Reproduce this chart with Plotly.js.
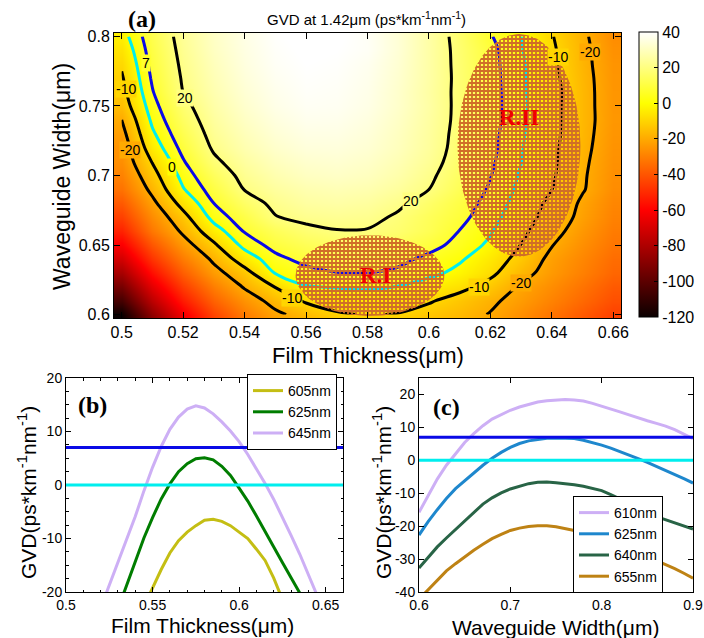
<!DOCTYPE html>
<html><head><meta charset="utf-8">
<script src="https://cdn.plot.ly/plotly-3.0.1.min.js"></script>
<style>html,body{margin:0;padding:0;background:#fff}#chart{width:704px;height:638px}</style>
</head><body><div id="chart"></div>
<script>
// ---------- panel (a): GVD map ----------
const thickness = [0.50,0.51,0.52,0.53,0.54,0.55,0.56,0.57,0.58,0.59,0.60,0.61,0.62,0.63,0.64,0.65,0.66];
const guideWidth = [0.60,0.61,0.62,0.63,0.64,0.65,0.66,0.67,0.68,0.69,0.70,0.71,0.72,0.73,0.74,0.75,0.76,0.77,0.78,0.79,0.80];
const gvdMap = [
 [-120,-88,-63,-44,-31,-22,-16.3,-11.2,-9.3,-10.5,-13.7,-16.5,-20.5,-26.5,-32.7,-39,-45],
 [-106,-77,-54,-37,-25.5,-16.5,-8.7,-5.5,-4.5,-5.8,-9,-13.5,-18.2,-23.5,-29.5,-35.5,-41.5],
 [-94,-67,-46,-30.5,-19,-9.6,-0.4,0.6,1.3,-0.2,-3.8,-7.3,-13,-21.2,-27,-33,-39],
 [-82,-57,-38,-23.5,-13.4,0.5,4.5,6.8,7.0,5.5,2.2,-2.2,-7.9,-16.7,-24,-30,-36],
 [-71,-48,-31,-18,-4.9,4.9,9.5,11.3,11.2,9.1,5.2,1.1,-5.2,-13,-22.5,-28.5,-34.5],
 [-61,-40,-24.3,-11.5,2.6,9.7,13.4,15.3,15.3,13.5,9.6,4.6,-1.6,-10.2,-19.6,-26.5,-32.5],
 [-52,-32,-18.2,-4,7.6,13.7,17.7,19.6,19.5,17.3,13.1,6.8,0.7,-7.7,-16.7,-24.5,-31],
 [-45,-27.2,-13.2,2.9,11.4,19.6,22.2,23,22.3,18.8,14,9.1,2.9,-5.3,-14.3,-22.5,-29.5],
 [-39,-22.4,-6.6,7,15.9,22,25.2,26,24.8,21.6,16.3,10.7,4.5,-3.4,-12.6,-21.5,-28.5],
 [-33,-17.5,-0.6,10.7,20.3,24.8,27.6,28.5,27.5,24.6,20,13.2,6,-1.9,-9.9,-19.3,-27],
 [-29.6,-13.5,2.8,14.2,22.7,27.3,30.2,31,29.8,26.7,21.7,14.8,7.3,-0.9,-8.7,-18.9,-26.5],
 [-26.5,-9.5,6.3,18.2,25.1,29.6,32.2,32.8,31.4,28.2,23.3,16.2,8.3,0.2,-8.2,-18.3,-26],
 [-25.5,-4.8,9.5,21.3,27.6,31.8,34.3,34.5,33,29.6,24.4,17,9,0.6,-7.7,-17.6,-25.5],
 [-23,-1.3,12.4,23.2,29.2,33.4,35.8,35.8,34,30.2,24.8,17.4,9.5,1,-7.2,-17.1,-25],
 [-20,1.7,15.1,24.8,30.8,34.8,37.2,37,35,31,25.3,17.8,10,1.4,-7.1,-16.9,-24.5],
 [-15.5,4.2,17.5,26.3,32.2,36.2,38.3,38,36,31.8,25.8,17.8,10.1,1.8,-7,-16.9,-24.7],
 [-13,6.5,20,27.6,33.3,37,39,38.5,36.5,32,25.6,17.8,10,1.5,-6.8,-16.9,-24.8],
 [-11,8.1,21,28.6,34.2,37.8,39.5,39,37,32.5,26,17.8,9.8,1.4,-7.5,-17.1,-25],
 [-9,9.5,21.9,29.5,35,38.5,40,39.5,37.5,33,26,17.6,9.6,1.2,-8,-17.6,-25.2],
 [-6.5,10.8,22.8,30.5,35.5,39,40.5,40,38.5,33.5,26,17.4,9.3,0.6,-8.6,-17.7,-26],
 [-3.5,12.2,23.6,31,36,39.5,41,40.5,38.5,33.5,26,16.8,7.6,0,-9.5,-18.3,-27]
];
const contourLevels = [20, -10, -20, 7, 0];
const contourColors = ['black', 'black', 'black', 'rgb(10,10,230)', 'rgb(0,238,238)'];
// contour label placements: [level, thickness, width]
const contourLabelSpots = [
  [20, 0.5205, 0.756], [20, 0.5940, 0.6815],
  [7, 0.5080, 0.781],
  [0, 0.5163, 0.706],
  [-10, 0.5013, 0.762], [-10, 0.5555, 0.6118], [-10, 0.6163, 0.620], [-10, 0.6420, 0.785],
  [-20, 0.5027, 0.718], [-20, 0.6300, 0.6224], [-20, 0.6523, 0.789]
];
const colorbarTicks = [-120,-100,-80,-60,-40,-20,0,20,40];
const regionLabels = ['R.I', 'R.II'];
const regionLabelPos = [[0.5825, 0.628], [0.6294, 0.742]];
const regionI = {cx: 0.5808, cy: 0.628, rx: 0.0242, ry: 0.029};
const regionII = {cx: 0.6293, cy: 0.7217, rx: 0.0200, ry: 0.080};

// ---------- panel (b): GVD vs film thickness ----------
const bLabels = ['605nm', '625nm', '645nm'];
const bThick605 = [0.545,0.550,0.555,0.560,0.565,0.570,0.575,0.580,0.585,0.590,0.595,0.600,0.605,0.610,0.615,0.620,0.625];
const bGvd605   = [-22.7,-19.2,-15.8,-12.7,-10.4,-8.8,-7.6,-6.6,-6.4,-6.8,-7.6,-8.8,-10.0,-12.0,-14.1,-17.4,-21.4];
const bThick625 = [0.530,0.535,0.540,0.545,0.550,0.555,0.560,0.565,0.570,0.575,0.580,0.585,0.590,0.595,0.600,0.605,0.610,0.615,0.620,0.625,0.630,0.635,0.640];
const bGvd625   = [-23.2,-18.7,-14.2,-9.9,-6.1,-2.6,0.2,2.5,4.0,4.9,5.1,4.7,3.5,1.8,-0.6,-3.0,-5.8,-8.6,-11.6,-14.5,-17.5,-20.3,-23];
const bThick645 = [0.520,0.525,0.530,0.535,0.540,0.545,0.550,0.555,0.560,0.565,0.570,0.575,0.580,0.585,0.590,0.595,0.600,0.605,0.610,0.615,0.620,0.625,0.630,0.635,0.640,0.645];
const bGvd645   = [-23,-18.7,-14.5,-10.4,-5.9,-1.1,3.3,7.2,10.4,12.7,14.2,14.8,14.4,13.3,11.8,10.1,8.1,5.7,3.1,0.3,-2.7,-5.9,-9.4,-12.9,-16.8,-20.6];
const bYTicks = [-20,-10,0,10,20];

// ---------- panel (c): GVD vs waveguide width ----------
const cLabels = ['610nm', '625nm', '640nm', '655nm'];
const cWidth = [0.60,0.61,0.62,0.63,0.64,0.65,0.66,0.67,0.68,0.69,0.70,0.71,0.72,0.73,0.74,0.75,0.76,0.77,0.78,0.79,0.80,0.81,0.82,0.83,0.84,0.85,0.86,0.87,0.88,0.89,0.90];
const cGvd610 = [-15.8,-10.6,-5.7,-1.5,2.1,5.4,8.1,10.5,12.5,13.9,15.2,16.2,17.0,17.7,18.1,18.4,18.5,18.3,18.0,17.3,16.5,15.6,14.7,13.8,12.8,12.0,11.2,10.4,9.3,7.9,6.6];
const cGvd625 = [-22.7,-18.6,-15.0,-11.6,-8.6,-6.2,-3.9,-1.5,0.6,2.4,3.9,5.1,5.9,6.4,6.7,6.8,6.8,6.6,6.1,5.4,4.6,3.7,2.7,1.6,0.5,-0.6,-1.8,-3.1,-4.4,-5.6,-6.9];
const cGvd640 = [-32.7,-29.4,-26.3,-23.6,-21.0,-18.5,-15.9,-13.3,-11.4,-9.9,-8.7,-7.8,-7.1,-6.7,-6.6,-6.8,-7.0,-7.4,-7.9,-8.5,-9.2,-10.4,-11.7,-13.1,-14.6,-16.0,-17.1,-18.1,-19.1,-20.0,-20.9];
const cGvd655 = [-42.2,-39.4,-36.5,-33.6,-31.4,-29.3,-27.3,-25.5,-23.8,-22.5,-21.3,-20.6,-20.1,-19.9,-19.9,-20.2,-20.7,-21.3,-22.0,-22.9,-23.7,-24.7,-25.8,-26.9,-28.1,-29.3,-30.5,-31.6,-32.9,-34.3,-35.8];
const cYTicks = [-40,-30,-20,-10,0,10,20];

const refLevels = [7, 0];
const refColors = ['rgb(10,10,230)', 'rgb(0,238,238)'];

// ---------- styling ----------
const FONT = 'Liberation Sans, Arial, sans-serif';
const SERIF = 'Liberation Serif, Times New Roman, serif';
const ZMIN = -120, ZMAX = 40;
const hot = [[0,'rgb(11,0,0)'],[0.375,'rgb(255,0,0)'],[0.75,'rgb(255,255,0)'],[1,'rgb(255,255,255)']];
function hotColor(v){
  const f = Math.max(0, Math.min(1, (v - ZMIN) / (ZMAX - ZMIN)));
  let r, g, b;
  if (f < 0.375) { r = 11 + 244 * f / 0.375; g = 0; b = 0; }
  else if (f < 0.75) { r = 255; g = 255 * (f - 0.375) / 0.375; b = 0; }
  else { r = 255; g = 255; b = 255 * (f - 0.75) / 0.25; }
  return 'rgb(' + Math.round(r) + ',' + Math.round(g) + ',' + Math.round(b) + ')';
}
const txt = v => String(v);

function ellipsePath(e){
  const xs = [], ys = [];
  for (let i = 0; i <= 160; i++) {
    const a = 2 * Math.PI * i / 160;
    xs.push(e.cx + e.rx * Math.cos(a));
    ys.push(e.cy + e.ry * Math.sin(a));
  }
  return {xs, ys};
}

const traces = [];
traces.push({
  type: 'heatmap', x: thickness, y: guideWidth, z: gvdMap,
  colorscale: hot, zmin: ZMIN, zmax: ZMAX, zsmooth: 'best', hoverinfo: 'skip',
  colorbar: {
    x: 639/704, xanchor: 'left', xref: 'paper', xpad: 0,
    y: 1-317/638, yanchor: 'bottom', yref: 'paper', ypad: 0,
    len: 285/638, lenmode: 'fraction', thickness: 19, thicknessmode: 'pixels',
    outlinecolor: 'black', outlinewidth: 1,
    tickmode: 'array', tickvals: colorbarTicks, ticktext: colorbarTicks.map(txt),
    ticks: 'inside', ticklen: 4, tickcolor: 'black',
    tickfont: {family: FONT, size: 16, color: 'black'}
  }
});
contourLevels.forEach((lv, i) => {
  traces.push({
    type: 'contour', x: thickness, y: guideWidth, z: gvdMap,
    autocontour: false, showscale: false, hoverinfo: 'skip',
    contours: {start: lv, end: lv + 0.5, size: 1, coloring: 'none', showlabels: false},
    line: {color: contourColors[i], width: 3, smoothing: 1}
  });
});
[regionI, regionII].forEach(e => {
  const p = ellipsePath(e);
  traces.push({
    type: 'scatter', mode: 'lines', x: p.xs, y: p.ys, fill: 'toself',
    line: {width: 0, color: 'rgba(0,0,0,0)'}, hoverinfo: 'skip', showlegend: false,
    fillcolor: 'rgba(0,0,0,0)',
    fillpattern: {shape: '+', fgcolor: 'rgb(208,110,40)', bgcolor: 'rgba(0,0,0,0)', size: 4, solidity: 0.7}
  });
});

const bSeries = [[bThick605, bGvd605, 'rgb(196,190,20)'], [bThick625, bGvd625, 'rgb(0,125,0)'], [bThick645, bGvd645, 'rgb(205,175,245)']];
bSeries.forEach((s, i) => {
  traces.push({type: 'scatter', mode: 'lines', x: s[0], y: s[1], name: bLabels[i],
    xaxis: 'x2', yaxis: 'y2', legend: 'legend', line: {color: s[2], width: 3}, hoverinfo: 'skip'});
});
const cSeries = [[cGvd610, 'rgb(205,175,245)'], [cGvd625, 'rgb(30,135,205)'], [cGvd640, 'rgb(40,100,70)'], [cGvd655, 'rgb(190,130,20)']];
cSeries.forEach((s, i) => {
  traces.push({type: 'scatter', mode: 'lines', x: cWidth, y: s[0], name: cLabels[i],
    xaxis: 'x3', yaxis: 'y3', legend: 'legend2', line: {color: s[1], width: 3}, hoverinfo: 'skip'});
});

const shapes = [];
['2', '3'].forEach(ax => {
  refLevels.forEach((lv, i) => {
    shapes.push({type: 'line', xref: 'x' + ax + ' domain', x0: 0, x1: 1, yref: 'y' + ax, y0: lv, y1: lv,
      line: {color: refColors[i], width: 3}, layer: 'above'});
  });
});

function axisBase(extra){
  return Object.assign({showline: true, linecolor: 'black', linewidth: 1, mirror: 'allticks',
    ticks: 'inside', ticklen: 5, tickcolor: 'black', showgrid: false, zeroline: false,
    tickfont: {family: FONT, size: 14, color: 'black'}}, extra);
}

const annotations = [
  {text: '<b>(a)</b>', x: 142/704, y: 1-19/638, font: {family: SERIF, size: 24, color: 'black'}},
  {text: 'GVD at 1.42\u03bcm (ps*km<sup>-1</sup>nm<sup>-1</sup>)', x: 366/704, y: 1-18/638, font: {family: FONT, size: 15, color: 'black'}},
  {text: 'Film Thickness(\u03bcm)', x: 368/704, y: 1-355/638, font: {family: FONT, size: 22, color: 'black'}},
  {text: 'Waveguide Width(\u03bcm)', x: 62/704, y: 1-177/638, textangle: -90, font: {family: FONT, size: 23, color: 'black'}},
  {text: '<b>(b)</b>', x: 92/704, y: 1-405/638, font: {family: SERIF, size: 24, color: 'black'}},
  {text: '<b>(c)</b>', x: 446/704, y: 1-407/638, font: {family: SERIF, size: 24, color: 'black'}},
  {text: 'Film Thickness(\u03bcm)', x: 202/704, y: 1-625/638, font: {family: FONT, size: 21, color: 'black'}},
  {text: 'Waveguide Width(\u03bcm)', x: 555/704, y: 1-627/638, font: {family: FONT, size: 21, color: 'black'}},
  {text: 'GVD(ps*km<sup>-1</sup>nm<sup>-1</sup>)', x: 27/704, y: 1-493/638, textangle: -90, font: {family: FONT, size: 21, color: 'black'}},
  {text: 'GVD(ps*km<sup>-1</sup>nm<sup>-1</sup>)', x: 382/704, y: 1-493/638, textangle: -90, font: {family: FONT, size: 21, color: 'black'}}
].map(a => Object.assign({xref: 'paper', yref: 'paper', showarrow: false, xanchor: 'center', yanchor: 'middle'}, a));
contourLabelSpots.forEach(s => {
  annotations.push({text: txt(s[0]), x: s[1], y: s[2], xref: 'x', yref: 'y', showarrow: false,
    bgcolor: hotColor(s[0]), borderpad: 0, font: {family: FONT, size: 14, color: 'black'}});
});
regionLabels.forEach((t, i) => {
  annotations.push({text: '<b>' + t + '</b>', x: regionLabelPos[i][0], y: regionLabelPos[i][1], xref: 'x', yref: 'y',
    showarrow: false, font: {family: SERIF, size: 23, color: 'rgb(240,0,0)'}});
});

const layout = {
  width: 704, height: 638, autosize: false,
  margin: {l: 0, r: 0, t: 0, b: 0},
  paper_bgcolor: 'white', plot_bgcolor: 'white',
  font: {family: FONT, color: 'black'},
  showlegend: true,
  xaxis: axisBase({domain: [114/704, 621/704], range: [0.4975, 0.6625], dtick: 0.02, tick0: 0.5, ticklen: 6,
    tickfont: {family: FONT, size: 16, color: 'black'}, anchor: 'y'}),
  yaxis: axisBase({domain: [1-318/638, 1-33/638], range: [0.5975, 0.8025], dtick: 0.05, tick0: 0.6, ticklen: 6,
    tickfont: {family: FONT, size: 16, color: 'black'}, anchor: 'x'}),
  xaxis2: axisBase({domain: [66/704, 343/704], range: [0.5, 0.66], dtick: 0.05, tick0: 0.5, anchor: 'y2',
    minor: {ticks: 'inside', ticklen: 2.5, dtick: 0.01, tickcolor: 'black'}}),
  yaxis2: axisBase({domain: [1-592/638, 1-378/638], range: [-20, 20], tickmode: 'array', tickvals: bYTicks, ticktext: bYTicks.map(txt), anchor: 'x2',
    minor: {ticks: 'inside', ticklen: 2.5, dtick: 2.5, tickcolor: 'black'}}),
  xaxis3: axisBase({domain: [419/704, 693/704], range: [0.6, 0.9], dtick: 0.1, tick0: 0.6, anchor: 'y3'}),
  yaxis3: axisBase({domain: [1-592/638, 1-378/638], range: [-40, 25], tickmode: 'array', tickvals: cYTicks, ticktext: cYTicks.map(txt), anchor: 'x3'}),
  legend: {x: 337/704, xanchor: 'right', y: 1-374/638, yanchor: 'top', bgcolor: 'white', bordercolor: 'black', borderwidth: 1,
    font: {family: FONT, size: 14, color: 'black'}, tracegroupgap: 0, itemwidth: 30},
  legend2: {x: 663/704, xanchor: 'right', y: 1-496/638, yanchor: 'top', bgcolor: 'white', bordercolor: 'black', borderwidth: 1,
    font: {family: FONT, size: 14, color: 'black'}, tracegroupgap: 0, itemwidth: 30},
  shapes: shapes,
  annotations: annotations
};
traces.forEach(t => { if (t.type !== 'scatter' || !t.name) t.showlegend = false; });
Plotly.newPlot('chart', traces, layout, {staticPlot: true, displayModeBar: false});
</script>
</body></html>
